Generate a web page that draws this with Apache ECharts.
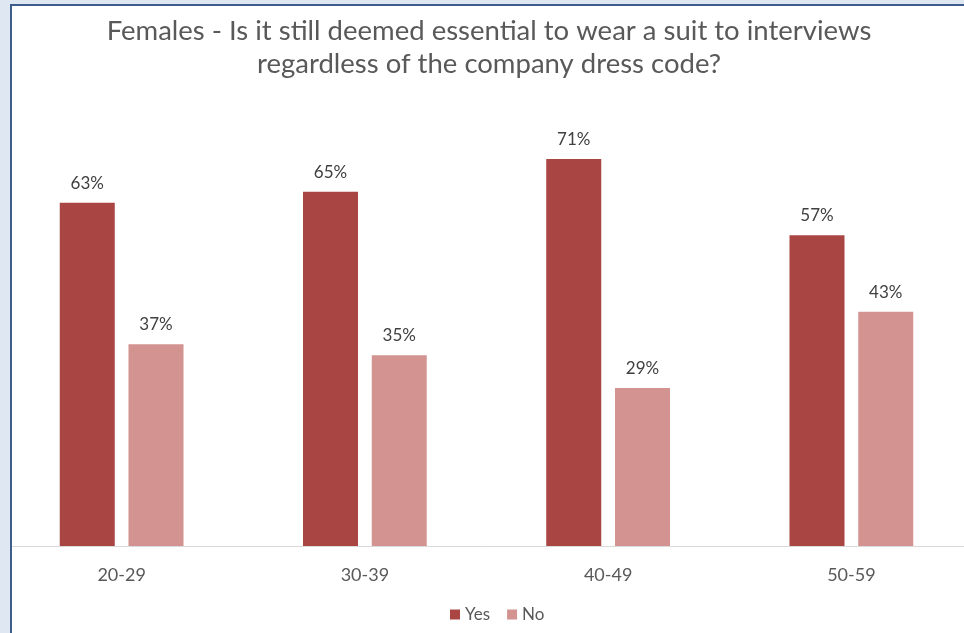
<!DOCTYPE html>
<html><head><meta charset="utf-8">
<script src="https://cdn.jsdelivr.net/npm/echarts@6/dist/echarts.min.js"></script>
<style>html,body{margin:0;padding:0;background:#fff}#c{width:964px;height:633px}</style>
</head><body><div id="c"></div>
<script>
const categories = ['20-29','30-39','40-49','50-59'];
const yesValues = [63, 65, 71, 57];
const noValues = [37, 35, 29, 43];
const seriesNames = ['Yes','No'];
const titleLines = ['Females - Is it still deemed essential to wear a suit to interviews','regardless of the company dress code?'];

const chart = echarts.init(document.getElementById('c'));
const font = 'Lato, "Liberation Sans", sans-serif';
const lbl = {show:true, position:'top', distance:11, formatter:'{c}%', color:'#404040', fontSize:17, fontFamily:font};
chart.setOption({
  animation:false,
  backgroundColor:'#ffffff',
  title:{text:titleLines.join('\n'), left:484, textAlign:'center', top:10,
    textStyle:{color:'#595959', fontSize:27.5, fontWeight:'normal', fontFamily:font, lineHeight:33}},
  legend:{data:seriesNames, top:601, left:445, itemWidth:10, itemHeight:10, itemGap:17,
    icon:'rect', textStyle:{color:'#595959', fontSize:17, fontFamily:font}},
  grid:{left:0, width:973, top:110, bottom:87, containLabel:false, outerBoundsMode:'none'},
  xAxis:{type:'category', data:categories,
    axisLine:{lineStyle:{color:'#d9d9d9', width:1}}, axisTick:{show:false},
    axisLabel:{color:'#595959', fontSize:18, margin:20, fontFamily:font}},
  yAxis:{type:'value', min:0, max:80, show:false, splitLine:{show:false}},
  series:[
    {name:seriesNames[0], type:'bar', data:yesValues, barWidth:55, barGap:'25%', itemStyle:{color:'#A94543'}, label:lbl},
    {name:seriesNames[1], type:'bar', data:noValues, barWidth:55, barGap:'25%', itemStyle:{color:'#D39391'}, label:lbl}
  ],
  graphic:[
    {type:'rect', z:100, shape:{x:0,y:0,width:10,height:633}, style:{fill:'#dee7f2'}},
    {type:'rect', z:100, shape:{x:0,y:0,width:964,height:4}, style:{fill:'#dee7f2'}},
    {type:'rect', z:101, shape:{x:10,y:4,width:2,height:629}, style:{fill:'#3f5d8a'}},
    {type:'rect', z:101, shape:{x:10,y:4,width:954,height:2}, style:{fill:'#3f5d8a'}}
  ]
});
</script></body></html>
